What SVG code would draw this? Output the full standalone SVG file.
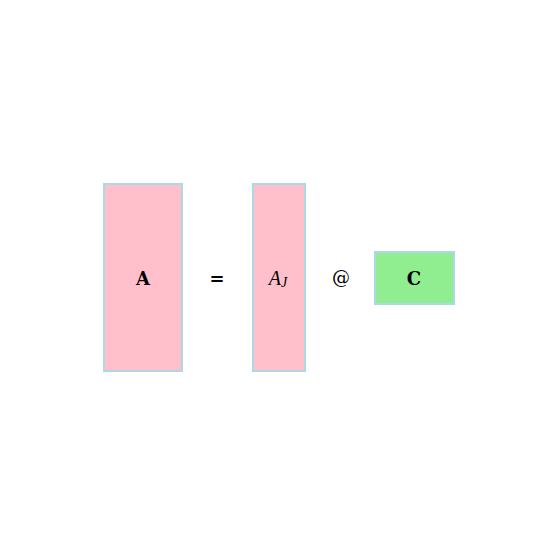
<svg xmlns="http://www.w3.org/2000/svg" width="557" height="557" viewBox="0 0 557 557">
<style>
.box{stroke:#add8e6;stroke-width:2}
.t{font-family:"DejaVu Serif","Liberation Serif",serif;font-size:18px;fill:#000;text-anchor:middle;dominant-baseline:central}
.b{font-weight:bold}
.i{font-family:"Liberation Serif","DejaVu Serif",serif;font-style:italic;font-size:20px}
</style>
<rect width="557" height="557" fill="#fff"/>
<g id="A"><rect class="box" x="104" y="184" width="78" height="187" fill="#ffc0cb"/><text class="t b" x="143" y="278">A</text></g>
<g id="eq"><text class="t b" x="217" y="278" font-size="24" font-family="Liberation Serif, serif">=</text></g>
<g id="AJ"><rect class="box" x="253" y="184" width="52" height="187" fill="#ffc0cb"/><text class="t i" x="278" y="278">A<tspan font-size="14" dy="4">J</tspan></text></g>
<g id="at"><text class="t" x="341" y="277">@</text></g>
<g id="C"><rect class="box" x="375" y="252" width="79" height="52" fill="#90ee90"/><text class="t b" x="414" y="278">C</text></g>
<g id="connectors"></g>
</svg>
